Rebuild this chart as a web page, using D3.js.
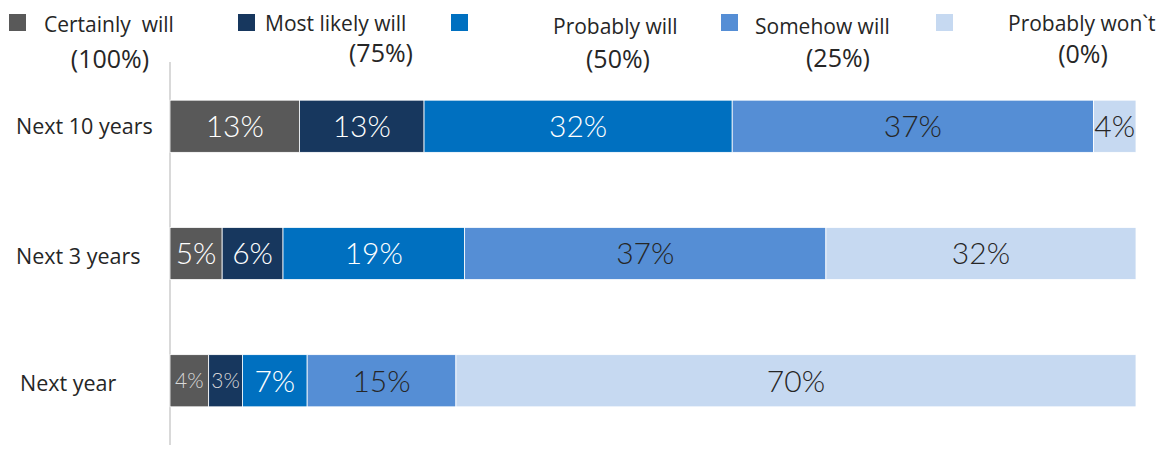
<!DOCTYPE html>
<html><head><meta charset="utf-8">
<script src="https://cdn.jsdelivr.net/npm/d3@7"></script>
<style>body{margin:0;background:#fff}svg{display:block}</style>
</head><body><svg id="c" width="1161" height="454"></svg>
<script>
const categories = ["Next 10 years", "Next 3 years", "Next year"];
const seriesNames = ["Certainly  will", "Most likely will", "Probably will", "Somehow will", "Probably won`t"];
const seriesSub = ["(100%)", "(75%)", "(50%)", "(25%)", "(0%)"];
const certainly = [13.4, 5.4, 4.0];
const mostLikely = [12.9, 6.3, 3.5];
const probably = [31.9, 18.8, 6.7];
const somehow = [37.4, 37.4, 15.4];
const probablyNot = [4.4, 32.1, 70.4];
const labelCertainly = ["13%", "5%", "4%"];
const labelMostLikely = ["13%", "6%", "3%"];
const labelProbably = ["32%", "19%", "7%"];
const labelSomehow = ["37%", "37%", "15%"];
const labelProbablyNot = ["4%", "32%", "70%"];

const series = [certainly, mostLikely, probably, somehow, probablyNot];
const labels = [labelCertainly, labelMostLikely, labelProbably, labelSomehow, labelProbablyNot];
const colors = ["#595959", "#17375e", "#0070c0", "#558ed5", "#c6d9f1"];
const textColors = ["#ffffff", "#ffffff", "#ffffff", "#262626", "#262626"];

const svg = d3.select("#c");
const x = d3.scaleLinear().domain([0, 100]).range([170, 1136]);
const y = d3.scaleBand().domain(categories).range([62, 445]).paddingInner(0.59).paddingOuter(0.3);

const rows = categories.map((c, i) => {
  let acc = 0;
  return series.map((s, k) => {
    const seg = {cat: c, k, x0: acc, x1: acc + s[i], label: labels[k][i]};
    acc += s[i];
    return seg;
  });
}).flat();

svg.append("line").attr("x1", 170).attr("x2", 170).attr("y1", 62).attr("y2", 445)
  .attr("stroke", "#d9d9d9").attr("stroke-width", 2);

svg.selectAll("rect.seg").data(rows).join("rect")
  .attr("x", d => x(d.x0)).attr("width", d => x(d.x1) - x(d.x0))
  .attr("y", d => y(d.cat)).attr("height", y.bandwidth())
  .attr("fill", d => colors[d.k]).attr("stroke", "#ffffff").attr("stroke-width", 0.8);

const small = d => (d.x1 - d.x0) < 5 && d.cat === "Next year";
svg.selectAll("text.lbl").data(rows).join("text")
  .attr("x", d => (x(d.x0) + x(d.x1)) / 2)
  .attr("y", d => y(d.cat) + y.bandwidth() / 2)
  .attr("dy", "0.36em")
  .attr("text-anchor", "middle")
  .attr("font-family", "Lato, 'Open Sans', sans-serif")
  .attr("font-weight", 300)
  .attr("font-size", d => small(d) ? 21 : 30)
  .attr("fill", d => small(d) ? "#d9d9d9" : textColors[d.k])
  .text(d => d.label);

svg.selectAll("text.cat").data(categories).join("text")
  .attr("x", (d, i) => i === 2 ? 20 : 16)
  .attr("y", (d, i) => y(d) + y.bandwidth() / 2 + (i === 0 ? 0 : 3))
  .attr("dy", "0.36em")
  .attr("font-family", "'Open Sans', sans-serif")
  .attr("font-size", 21.5)
  .attr("fill", "#262626")
  .text(d => d);

const legendLayout = [
  {sx: 9, tx: 44, cx: 110, sy: 14, ty: 32, cy: 68},
  {sx: 238, tx: 265, cx: 381, sy: 14, ty: 31, cy: 62},
  {sx: 451, tx: 553, cx: 618, sy: 14, ty: 34, cy: 68},
  {sx: 721, tx: 755, cx: 838, sy: 14, ty: 34, cy: 67},
  {sx: 936, tx: 1008, cx: 1083, sy: 14, ty: 31, cy: 63}
];
const lg = svg.selectAll("g.leg").data(seriesNames).join("g");
lg.append("rect").attr("x", (d, i) => legendLayout[i].sx).attr("y", (d, i) => legendLayout[i].sy)
  .attr("width", 17).attr("height", 17).attr("fill", (d, i) => colors[i]);
lg.append("text").attr("x", (d, i) => legendLayout[i].tx).attr("y", (d, i) => legendLayout[i].ty)
  .attr("font-family", "'Open Sans', sans-serif").attr("font-size", 21).attr("fill", "#262626")
  .attr("xml:space", "preserve").style("white-space", "pre")
  .text(d => d);
lg.append("text").attr("x", (d, i) => legendLayout[i].cx).attr("y", (d, i) => legendLayout[i].cy)
  .attr("text-anchor", "middle")
  .attr("font-family", "'Open Sans', sans-serif").attr("font-size", 25).attr("fill", "#262626")
  .text((d, i) => seriesSub[i]);
</script></body></html>
